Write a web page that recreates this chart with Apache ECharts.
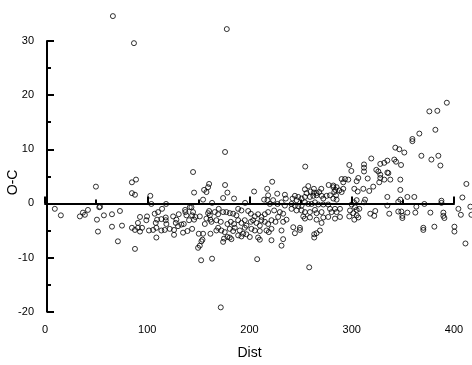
<!DOCTYPE html>
<html><head><meta charset="utf-8">
<script src="https://cdn.jsdelivr.net/npm/echarts@6/dist/echarts.min.js"></script>
<style>html,body{margin:0;padding:0;background:#fff}#c{width:472px;height:365px}</style>
</head><body><div id="c"></div>
<script>
// Axis settings
const xTicks = [0, 100, 200, 300, 400];
const yTicks = [-20, -10, 0, 10, 20, 30];
const xName = 'Dist';
const yName = 'O-C';

// Data: [Dist, O-C]
const outliers = [[66.4,34.6],[87.0,29.6],[177.8,32.2],[393.0,18.6],[375.9,17.0],[383.7,17.1],[381.8,13.6],[171.9,-19.2]];
const near0to95 = [[49.8,3.1],[85.0,3.9],[89.0,4.4],[85.0,1.9],[88.0,1.6],[9.6,-1.0],[15.5,-2.2],[34.1,-2.4],[37.1,-1.7],[39.0,-2.1],[42.0,-1.2],[53.1,-0.7],[53.8,-0.6],[50.8,-3.0],[57.6,-2.2],[65.5,-2.0],[73.3,-1.4],[51.8,-5.2],[65.5,-4.3],[75.3,-4.1],[71.3,-7.0],[88.0,-8.4],[92.9,-2.5],[90.9,-3.6],[85.0,-4.5],[88.0,-4.9],[90.9,-4.5],[92.9,-5.2],[94.9,-4.5]];
const near95to165 = [[144.8,5.8],[160.5,3.6],[159.5,3.0],[155.6,2.5],[157.9,2.1],[145.8,2.0],[103.0,1.4],[104.0,-0.1],[118.4,-0.1],[154.6,0.7],[163.4,0.1],[141.6,-0.7],[143.2,-0.7],[137.0,-1.2],[114.5,-1.0],[110.6,-1.6],[107.3,-1.9],[99.8,-2.4],[99.1,-3.1],[109.6,-3.0],[113.8,-2.9],[118.1,-2.6],[118.1,-3.1],[108.3,-3.6],[125.3,-2.4],[128.5,-3.0],[130.8,-2.0],[127.9,-3.6],[137.3,-1.6],[138.3,-2.2],[143.9,-2.2],[144.8,-1.6],[145.8,-3.0],[140.9,-3.1],[151.4,-2.4],[147.1,-2.5],[159.5,-1.8],[160.5,-1.4],[161.2,-2.2],[161.8,-3.0],[162.8,-3.4],[157.9,-2.8],[156.3,-3.8],[101.7,-5.0],[105.7,-4.9],[108.9,-6.3],[108.9,-4.5],[113.8,-5.0],[117.1,-4.9],[118.7,-3.8],[122.0,-4.7],[126.2,-4.9],[126.2,-5.8],[130.1,-4.2],[133.4,-3.9],[135.7,-3.8],[135.0,-5.4],[139.3,-5.1],[143.9,-4.7],[150.4,-5.6],[154.6,-5.6],[161.8,-5.6],[153.0,-7.0],[154.0,-6.7],[149.7,-8.2],[151.4,-7.8],[152.7,-10.5],[163.4,-10.2]];
const near165to240 = [[176.1,9.5],[176.1,3.4],[178.4,2.0],[174.2,1.0],[184.9,0.9],[204.5,2.2],[222.2,4.0],[217.3,2.7],[195.7,0.1],[218.2,1.5],[227.1,1.8],[234.6,1.6],[214.3,0.7],[217.6,0.6],[219.9,-0.1],[223.1,0.6],[227.4,-0.1],[231.3,0.2],[235.5,0.9],[234.6,-0.4],[169.9,-1.0],[166.0,-1.6],[169.3,-2.0],[174.2,-1.6],[177.4,-1.6],[180.7,-1.8],[184.0,-1.9],[187.2,-2.2],[188.9,-1.0],[192.1,-1.3],[198.7,-1.4],[201.3,-1.9],[205.2,-2.4],[208.4,-2.0],[211.7,-2.5],[215.0,-2.0],[218.2,-1.6],[224.1,-1.3],[229.7,-1.6],[232.9,-1.9],[167.6,-3.1],[171.9,-3.4],[169.3,-4.5],[167.6,-5.0],[172.5,-5.0],[178.4,-3.8],[181.7,-3.4],[184.9,-3.8],[188.9,-3.1],[192.1,-3.6],[195.4,-3.1],[197.0,-4.1],[201.3,-3.4],[203.5,-3.1],[206.8,-3.6],[210.1,-4.1],[211.7,-3.1],[215.0,-3.4],[218.2,-3.8],[221.5,-3.1],[225.4,-3.4],[228.0,-2.5],[232.9,-3.4],[236.2,-3.0],[175.8,-5.3],[180.7,-4.7],[184.0,-5.1],[185.6,-4.5],[190.5,-5.0],[193.8,-5.6],[195.4,-4.5],[201.9,-4.7],[205.2,-5.0],[210.1,-5.1],[216.6,-5.0],[221.5,-4.7],[218.9,-5.3],[231.3,-5.0],[175.1,-6.5],[178.4,-6.2],[180.7,-6.3],[174.2,-7.1],[182.3,-6.6],[188.9,-5.9],[192.1,-6.1],[197.0,-5.7],[200.3,-6.2],[208.4,-6.3],[210.1,-6.7],[221.5,-6.8],[232.9,-6.6],[231.3,-7.8],[207.5,-10.3]];
const near240to315 = [[254.5,6.8],[297.6,7.1],[299.6,6.0],[312.0,7.2],[312.0,6.6],[312.0,5.9],[315.6,4.6],[290.1,4.5],[293.4,4.5],[296.6,4.4],[291.7,3.9],[306.4,4.7],[304.8,4.1],[277.4,3.4],[282.0,3.3],[257.5,3.2],[254.2,2.6],[255.8,1.9],[259.7,2.2],[263.0,2.0],[265.6,1.9],[268.2,2.1],[270.2,2.7],[263.0,2.7],[282.0,3.0],[285.2,3.0],[283.9,2.5],[282.9,2.1],[287.8,2.4],[290.1,2.1],[291.7,2.7],[302.5,2.7],[305.8,2.2],[311.3,2.7],[244.4,1.4],[247.7,1.2],[242.1,0.9],[246.0,0.6],[250.9,0.9],[254.2,1.2],[259.1,1.2],[262.4,1.4],[265.6,1.5],[270.5,1.4],[275.4,1.4],[278.7,1.5],[284.6,1.5],[272.2,0.9],[282.0,0.9],[285.2,0.7],[302.2,0.2],[304.8,0.6],[313.0,0.7],[312.0,0.2],[241.1,-0.1],[244.4,-0.4],[247.7,-0.5],[250.9,-0.4],[254.2,0.2],[257.5,-0.1],[260.7,-0.1],[264.0,0.2],[267.3,-0.2],[272.2,-0.2],[277.0,-0.2],[241.1,-1.0],[246.0,-1.3],[250.9,-1.3],[254.2,-1.6],[259.1,-1.6],[264.0,-1.2],[265.6,-1.8],[270.5,-1.6],[278.7,-1.0],[283.6,-1.0],[288.5,-1.0],[280.3,-1.6],[285.2,-1.6],[299.9,-0.2],[303.2,-0.7],[304.8,-1.2],[298.3,-1.3],[301.5,-1.8],[307.4,-1.0],[304.8,-2.2],[302.5,-3.0],[306.4,-2.6],[297.6,-2.4],[288.5,-2.5],[283.6,-2.8],[277.0,-2.5],[272.2,-2.6],[259.1,-2.6],[254.2,-2.8],[252.6,-2.4],[265.6,-3.0],[270.5,-3.6],[242.8,-4.4],[244.4,-5.5],[249.3,-4.5],[249.3,-4.9],[268.9,-5.0],[263.3,-5.7],[263.3,-6.3],[265.6,-5.5],[258.4,-11.8]];
const near315to420 = [[366.1,12.9],[359.3,11.9],[359.3,11.5],[342.6,10.3],[346.5,10.0],[351.4,9.4],[368.1,8.8],[384.7,8.8],[377.9,8.1],[386.7,7.0],[319.1,8.3],[341.6,8.1],[343.3,7.7],[348.2,7.1],[334.8,7.9],[331.8,7.5],[327.9,7.3],[324.0,6.2],[326.0,5.9],[327.9,5.3],[327.9,4.7],[326.9,3.9],[334.8,5.7],[335.8,5.6],[331.8,4.4],[337.7,4.4],[347.5,4.4],[321.0,3.1],[317.1,2.3],[347.5,2.5],[334.8,1.2],[354.4,1.2],[361.2,1.2],[412.1,3.6],[408.2,1.1],[347.5,0.7],[345.5,0.3],[387.7,0.5],[387.7,0.1],[371.0,-0.1],[363.2,-0.6],[334.8,-0.4],[416.0,-0.6],[404.3,-1.0],[323.0,-1.4],[318.1,-1.9],[322.0,-2.3],[336.7,-1.9],[345.5,-1.5],[348.5,-1.5],[349.5,-2.3],[349.5,-2.7],[354.4,-1.7],[362.2,-1.7],[376.9,-1.7],[389.6,-1.7],[389.6,-2.3],[390.6,-2.7],[406.7,-2.1],[417.0,-2.1],[370.0,-4.5],[370.0,-4.9],[380.8,-4.3],[400.4,-4.3],[400.4,-5.2],[411.2,-7.4]];

const allPoints = [].concat(outliers, near0to95, near95to165, near165to240, near240to315, near315to420);

const chart = echarts.init(document.getElementById('c'), null, {renderer: 'canvas'});
const axisFont = {fontFamily: 'Liberation Sans, Arial, sans-serif', fontSize: 11, color: '#000'};
chart.setOption({
  animation: false,
  backgroundColor: '#fff',
  grid: {left: 45, width: 409, top: 41, bottom: 53.3, containLabel: false, outerBoundsMode: 'none'},
  xAxis: {
    type: 'value', min: xTicks[0], max: xTicks[xTicks.length - 1], interval: 100,
    name: xName, nameLocation: 'middle', nameGap: 34, nameMoveOverlap: false,
    nameTextStyle: {fontFamily: 'Liberation Sans, Arial, sans-serif', fontSize: 14, color: '#000'},
    axisLine: {show: true, lineStyle: {color: '#000', width: 2}},
    axisTick: {show: true, inside: true, length: 7, lineStyle: {color: '#000', width: 2}},
    minorTick: {show: true, splitNumber: 2, length: 4, lineStyle: {color: '#000', width: 2}},
    splitLine: {show: false},
    axisLabel: Object.assign({margin: 13}, axisFont)
  },
  yAxis: {
    type: 'value', min: yTicks[0], max: yTicks[yTicks.length - 1], interval: 10,
    offset: -2,
    name: yName, nameLocation: 'middle', nameGap: 27, nameRotate: 90, nameMoveOverlap: false,
    nameTextStyle: {fontFamily: 'Liberation Sans, Arial, sans-serif', fontSize: 14, color: '#000', padding: [0, 12, 0, 0]},
    axisLine: {show: true, lineStyle: {color: '#000', width: 2}},
    axisTick: {show: true, inside: true, length: 7, lineStyle: {color: '#000', width: 2}},
    minorTick: {show: true, splitNumber: 2, length: 4, lineStyle: {color: '#000', width: 2}},
    splitLine: {show: false},
    axisLabel: Object.assign({margin: 13}, axisFont)
  },
  series: [{
    type: 'scatter',
    data: allPoints,
    clip: false,
    symbol: 'circle',
    symbolSize: 5,
    itemStyle: {color: 'rgba(0,0,0,0)', borderColor: '#000', borderWidth: 1},
    emphasis: {disabled: true}
  }]
});
</script></body></html>
